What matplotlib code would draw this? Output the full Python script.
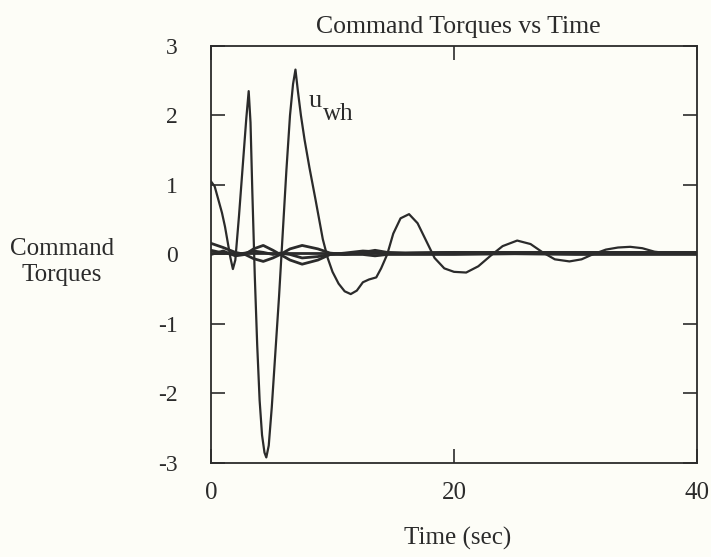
import matplotlib
matplotlib.use("Agg")
import matplotlib.pyplot as plt

# u_wh (the big one)
t_wh = [0, 0.3, 0.6, 0.9, 1.15, 1.4, 1.6, 1.8, 2.0, 2.3, 2.6, 2.9, 3.1, 3.25, 3.4, 3.6, 3.8, 4.0, 4.2, 4.4, 4.55,
        4.75, 5.0, 5.3, 5.6, 5.9, 6.2, 6.5, 6.75, 6.95, 7.15, 7.4, 7.7, 8.1, 8.6, 9.2, 9.6, 10.0, 10.5, 11.0, 11.5,
        12.0, 12.5, 13.0, 13.6, 14.0, 14.5, 15.0, 15.6, 16.3, 17.0, 17.7, 18.4, 19.2, 20.0, 21.0,
        22.0, 23.0, 24.0, 25.2, 26.3, 27.3, 28.3, 29.5, 30.5, 31.4, 32.5, 33.5, 34.5, 35.5, 36.5,
        37.5, 38.5, 40]
u_wh = [1.05, 0.98, 0.79, 0.6, 0.4, 0.15, -0.05, -0.21, -0.08, 0.55, 1.25, 1.95, 2.35, 1.9, 0.9, -0.3, -1.3, -2.1, -2.6, -2.85, -2.92,
        -2.75, -2.2, -1.4, -0.6, 0.3, 1.2, 2.0, 2.45, 2.66, 2.35, 2.0, 1.65, 1.25, 0.79, 0.22, -0.05, -0.25, -0.42, -0.53, -0.57,
        -0.52, -0.4, -0.36, -0.33, -0.2, 0.0, 0.3, 0.52, 0.58, 0.45, 0.2, -0.05, -0.2, -0.25, -0.26,
        -0.17, -0.02, 0.12, 0.2, 0.15, 0.03, -0.07, -0.1, -0.07, 0.0, 0.07, 0.1, 0.11, 0.09, 0.04,
        0.02, 0.03, 0.03]

# the small torques
t_s = [0, 1, 2, 2.8, 3.5, 4.3, 5.1, 5.7, 6.5, 7.5, 8.8, 9.8, 11, 12.5, 13.5, 14.5, 16, 20, 25, 30, 35, 40]
u_1 = [0.16, 0.1, 0.03, 0.0, 0.08, 0.13, 0.06, 0.0, 0.08, 0.13, 0.08, 0.02, 0.0, 0.03, 0.06, 0.03, 0.02, 0.03, 0.02, 0.03, 0.02, 0.02]
u_2 = [0.0, 0.05, -0.02, 0.0, -0.06, -0.1, -0.05, 0.0, -0.08, -0.14, -0.08, 0.0, 0.0, 0.0, -0.02, 0.0, 0.0, 0.0, 0.01, 0.0, 0.0, 0.0]
u_3 = [0.06, 0.02, 0.0, 0.02, 0.05, 0.03, 0.0, 0.02, 0.0, -0.05, -0.03, 0.0, 0.02, 0.05, 0.04, 0.02, 0.02, 0.03, 0.03, 0.03, 0.03, 0.03]
u_4 = [0.02, 0.02, 0.02, 0.02, 0.02, 0.02, 0.02, 0.02, 0.02, 0.02, 0.02, 0.02, 0.02, 0.02, 0.02, 0.02, 0.02, 0.02, 0.02, 0.02, 0.02, 0.02]

bg = "#fdfdf7"
ink = "#2b2b2b"
plt.rcParams["font.family"] = ["Liberation Serif", "DejaVu Serif"]
plt.rcParams["axes.unicode_minus"] = False

fig = plt.figure(figsize=(7.11, 5.57), dpi=100, facecolor=bg)
ax = fig.add_axes([0.2968, 0.1688, 0.6835, 0.7487], facecolor=bg)

for u in (u_1, u_2, u_3, u_4):
    ax.plot(t_s, u, color=ink, lw=2.0)
ax.plot(t_wh, u_wh, color=ink, lw=1.6)

ax.set_xlim(0, 40)
ax.set_ylim(-3, 3)
ax.set_xticks([0, 20, 40])
ax.set_yticks([-3, -2, -1, 0, 1, 2, 3])
ax.tick_params(direction="in", top=True, right=True, length=10, width=1.2,
               labelsize=17, colors=ink)
ax.tick_params(axis="y", pad=24)
ax.tick_params(axis="x", pad=14, labelsize=18)
for s in ax.spines.values():
    s.set_linewidth(1.3)
    s.set_color(ink)

ax.text(8.6, 2.21, "u", fontsize=19, color=ink, ha="center", va="center")
ax.text(10.5, 2.02, "wh", fontsize=18, color=ink, ha="center", va="center")

fig.text(458 / 711, 1 - 27 / 557, "Command Torques vs Time", fontsize=18.5, color=ink,
         ha="center", va="center")
fig.text(458 / 711, 1 - 538 / 557, "Time (sec)", fontsize=18, color=ink,
         ha="center", va="center")
fig.text(62 / 711, 1 - 262 / 557, "Command\nTorques", fontsize=18, color=ink,
         ha="center", va="center", linespacing=1.25)

fig.savefig("out.png", dpi=100, facecolor=bg)
